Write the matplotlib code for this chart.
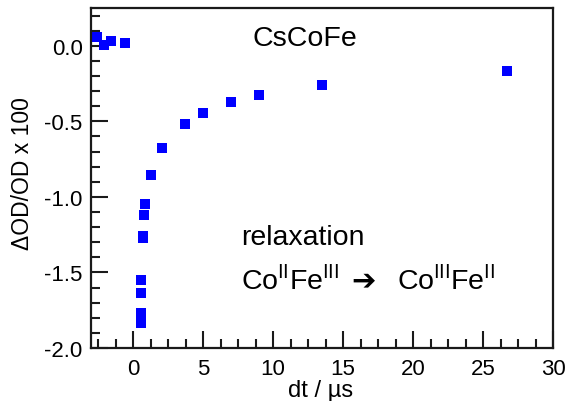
import numpy as np
import matplotlib
matplotlib.use("Agg")
import matplotlib.pyplot as plt
from matplotlib.ticker import MultipleLocator

# delay time (us) and signal (dOD/OD x 100)
dt = [-2.57, -2.07, -1.54, -0.54,
      0.55, 0.55, 0.55, 0.55, 0.71, 0.72, 0.79, 0.88,
      1.29, 2.10, 3.71, 5.00, 7.03, 8.98, 13.48, 26.70]
dod = [0.058, 0.002, 0.031, 0.020,
       -1.834, -1.768, -1.636, -1.550, -1.260, -1.275, -1.117, -1.048,
       -0.854, -0.678, -0.517, -0.446, -0.369, -0.327, -0.258, -0.167]

xticks = [0, 5, 10, 15, 20, 25, 30]
yticks = [0.0, -0.5, -1.0, -1.5, -2.0]


def set_style():
    rc = {
        "font.family": ["Liberation Sans", "DejaVu Sans"],
        "mathtext.fontset": "custom",
        "mathtext.rm": "Liberation Sans",
        "axes.spines.right": True,
        "axes.spines.top": True,
        "axes.edgecolor": "#1a1a1a",
        "axes.linewidth": 1.6,
        "xtick.direction": "in",
        "ytick.direction": "in",
    }
    plt.rcParams.update(rc)


set_style()

fig = plt.figure(figsize=(5.69, 4.02), dpi=100)
ax = fig.add_axes([91 / 569, 1 - 349 / 402, (553 - 91) / 569, (349 - 9) / 402])

ax.plot(dt, dod, ls="none", marker="s", ms=7.7, mew=0, color="#0000ff")

ax.set_xlim(-3, 30)
ax.set_ylim(-2.0, 0.25)
ax.set_xticks(xticks)
ax.set_yticks(yticks)
ax.set_yticklabels(["%.1f" % v for v in yticks])
ax.xaxis.set_minor_locator(MultipleLocator(1.25))
ax.yaxis.set_minor_locator(MultipleLocator(0.1))

ax.tick_params(which="major", length=12, width=1.5, labelsize=16, color="#1a1a1a")
ax.tick_params(which="minor", length=6.5, width=1.5, color="#1a1a1a")
ax.tick_params(axis="x", which="both", top=False, pad=7)
ax.tick_params(axis="y", which="both", right=False, pad=6)

ax.set_xlabel("dt / µs", fontsize=17)
ax.set_ylabel("ΔOD/OD x 100", fontsize=16.5)
ax.xaxis.set_label_coords((321 - 91) / 462, (349 - 380) / 340)
ax.yaxis.set_label_coords((34 - 91) / 462, (349 - 174) / 340)

# annotations
fs = 20.5
ax.text(252 / 569, 1 - 46 / 402, "CsCoFe", fontsize=fs, va="baseline",
        transform=fig.transFigure)
ax.text(241 / 569, 1 - 245 / 402, "relaxation", fontsize=fs, va="baseline",
        transform=fig.transFigure)
ax.text(241 / 569, 1 - 289 / 402, r"Co$^{\rm II}$Fe$^{\rm III}$", fontsize=fs,
        va="baseline", transform=fig.transFigure)
ax.text(351 / 569, 1 - 289 / 402, "\u2794", fontsize=21, va="baseline",
        family="DejaVu Sans", fontweight="bold", transform=fig.transFigure)
ax.text(397 / 569, 1 - 289 / 402, r"Co$^{\rm III}$Fe$^{\rm II}$", fontsize=fs,
        va="baseline", transform=fig.transFigure)

fig.savefig("out.png", dpi=100)
